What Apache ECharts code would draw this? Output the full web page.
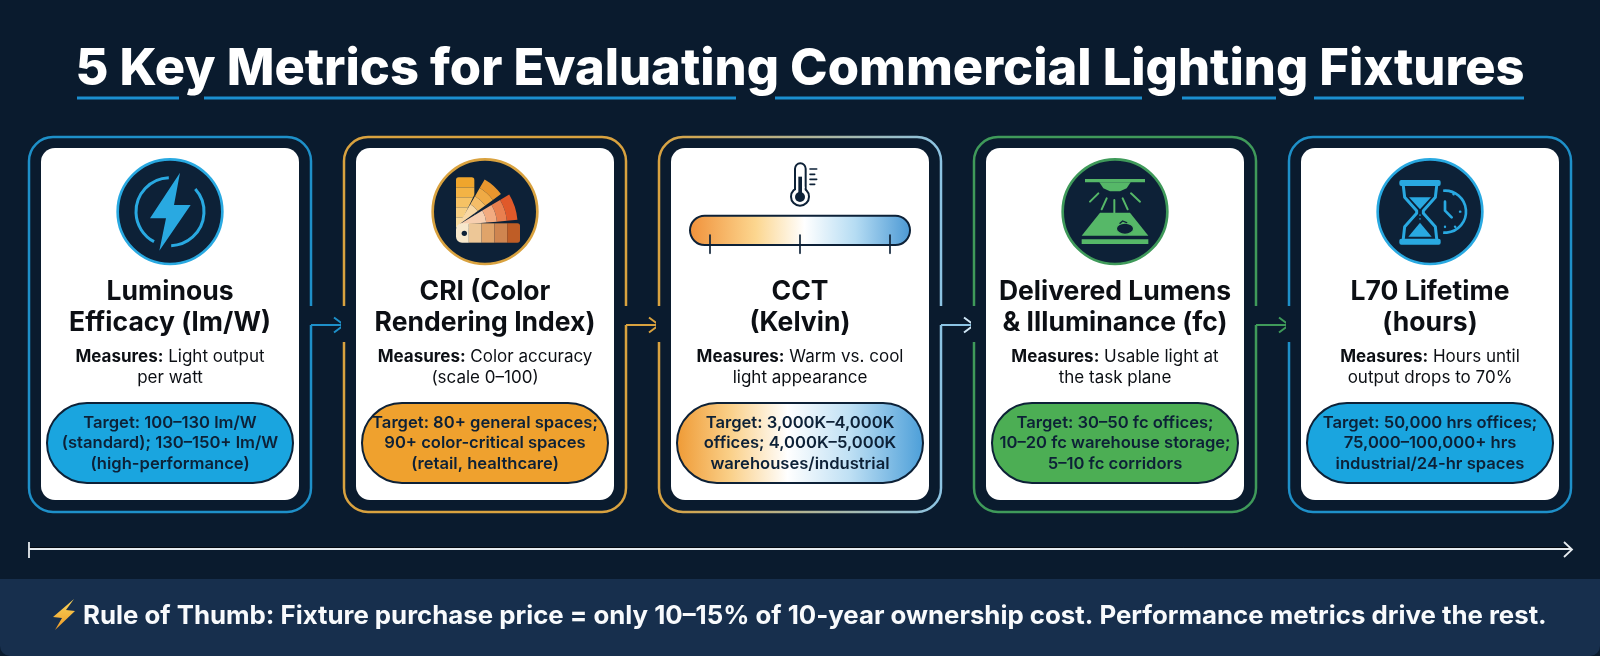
<!DOCTYPE html>
<html>
<head>
<meta charset="utf-8">
<style>html,body{margin:0;padding:0;background:#0a1b2e}#main{width:1600px;height:656px}</style>
<script src="https://cdn.jsdelivr.net/npm/echarts@6/dist/echarts.min.js"></script>
</head>
<body>
<div id="main"></div>
<script>
var heading = '5 Key Metrics for Evaluating Commercial Lighting Fixtures';
var footer = 'Rule of Thumb: Fixture purchase price = only 10–15% of 10-year ownership cost. Performance metrics drive the rest.';
var names = [
    ['Luminous', 'Efficacy (lm/W)'],
    ['CRI (Color', 'Rendering Index)'],
    ['CCT', '(Kelvin)'],
    ['Delivered Lumens', '& Illuminance (fc)'],
    ['L70 Lifetime', '(hours)']
];
var measures = [
    ['Light output', 'per watt'],
    ['Color accuracy', '(scale 0–100)'],
    ['Warm vs. cool', 'light appearance'],
    ['Usable light at', 'the task plane'],
    ['Hours until', 'output drops to 70%']
];
var targets = [
    ['Target: 100–130 lm/W', '(standard); 130–150+ lm/W', '(high-performance)'],
    ['Target: 80+ general spaces;', '90+ color-critical spaces', '(retail, healthcare)'],
    ['Target: 3,000K–4,000K', 'offices; 4,000K–5,000K', 'warehouses/industrial'],
    ['Target: 30–50 fc offices;', '10–20 fc warehouse storage;', '5–10 fc corridors'],
    ['Target: 50,000 hrs offices;', '75,000–100,000+ hrs', 'industrial/24-hr spaces']
];

var BG = '#0a1b2e', NAVY = '#0d2137', INK = '#0c0f14';
var BLUE = '#1e90c9', GOLD = '#d9a23f', GREEN = '#3f9a5a', SKY = '#8cc4e4';
var FONT = 'Inter, "Noto Sans", sans-serif';

function grad(a, b) {
    return new echarts.graphic.LinearGradient(0, 0, 1, 0, [{offset: 0, color: a}, {offset: 1, color: b}]);
}
var borderCol = [BLUE, GOLD, grad(GOLD, SKY), GREEN, BLUE];
var lineCol = [BLUE, GOLD, SKY, GREEN, BLUE];
var arrowCol = [BLUE, GOLD, '#cfe6f5', GREEN];
var pillFill = ['#1aa5df', '#efa12e', null, '#4cae54', '#1aa5df'];

var g = [];
function rect(x, y, w, h, r, style) { g.push({type: 'rect', shape: {x: x, y: y, width: w, height: h, r: r}, style: style}); }
function text(x, y, t, font, fill) {
    g.push({type: 'text', style: {x: x, y: y, text: t, font: font, fill: fill, align: 'center', verticalAlign: 'middle'}});
}

// background and footer band
rect(0, 0, 1600, 656, 0, {fill: BG});
rect(0, 579, 1600, 77, [0, 0, 10, 10], {fill: '#172f4d'});

// title with broken underline
text(800, 70, heading, '800 50.6px ' + FONT, '#fff');
[[77, 179], [204, 736], [775, 1142], [1182, 1276], [1314, 1524]].forEach(function (s) {
    g.push({type: 'line', shape: {x1: s[0], y1: 98, x2: s[1], y2: 98}, style: {stroke: '#1b8fd0', lineWidth: 3}});
});

// cards
for (var i = 0; i < 5; i++) {
    var left = 29 + i * 315, cx = left + 141;
    rect(left, 137, 282, 375, 24, {fill: 'none', stroke: borderCol[i], lineWidth: 2.5});
    // gaps in the border for the connectors
    if (i > 0) rect(left - 3, 306, 6, 36, 0, {fill: BG});
    if (i < 4) {
        rect(left + 279, 306, 6, 19, 0, {fill: BG});
        g.push({type: 'line', shape: {x1: left + 282, y1: 325, x2: left + 314, y2: 325}, style: {stroke: lineCol[i], lineWidth: 2}});
        g.push({type: 'polyline', shape: {points: [[left + 305, 317.5], [left + 315, 325], [left + 305, 332.5]]},
            style: {fill: 'none', stroke: arrowCol[i], lineWidth: 2}});
    }
    rect(left + 12, 148, 258, 352, 14, {fill: '#fff'});

    text(cx, 292, names[i][0], '700 26.5px ' + FONT, INK);
    text(cx, 323, names[i][1], '700 26.5px ' + FONT, INK);

    measures[i].forEach(function (m, j) {
        var t = j === 0 ? '{b|Measures:} ' + m : m;
        g.push({type: 'text', style: {x: cx, y: 357 + j * 21, text: t, font: '400 17px ' + FONT, fill: INK,
            align: 'center', verticalAlign: 'middle',
            rich: {b: {font: '700 17px ' + FONT, fill: INK}}}});
    });

    var pf = pillFill[i] || new echarts.graphic.LinearGradient(0, 0, 1, 0, [
        {offset: 0, color: '#ef9a35'}, {offset: .22, color: '#fad089'}, {offset: .45, color: '#ffffff'},
        {offset: .7, color: '#bfe0f4'}, {offset: 1, color: '#4b9ed8'}]);
    rect(left + 18, 403, 246, 80, 40, {fill: pf, stroke: NAVY, lineWidth: 2});
    targets[i].forEach(function (t, j) {
        text(cx, 422.5 + j * 20.5, t, '600 16.6px ' + FONT, NAVY);
    });
}

// icons are drawn in a 3x working space, one group per card
function icon(x, children) {
    g.push({type: 'group', x: x, y: 120, scaleX: 1 / 3, scaleY: 1 / 3, children: children});
}
function disc(cx, col) {
    return {type: 'circle', shape: {cx: cx, cy: 275, r: 157}, style: {fill: NAVY, stroke: col, lineWidth: 8}};
}
function ln(pts, col, w) {
    return {type: 'polyline', shape: {points: pts}, style: {fill: 'none', stroke: col, lineWidth: w, lineCap: 'round', lineJoin: 'round'}};
}
function poly(pts, col) { return {type: 'polygon', shape: {points: pts}, style: {fill: col}}; }
function deg(d) { return d * Math.PI / 180; }

var B = '#29a9e1';
icon(0, [
    disc(510, B),
    {type: 'arc', shape: {cx: 510, cy: 275, r: 102, startAngle: deg(-92), endAngle: deg(118), clockwise: false},
        style: {fill: 'none', stroke: B, lineWidth: 9}},
    {type: 'arc', shape: {cx: 510, cy: 275, r: 102, startAngle: deg(-42), endAngle: deg(88), clockwise: true},
        style: {fill: 'none', stroke: B, lineWidth: 9}},
    poly([[540, 158], [450, 295], [498, 295], [478, 392], [572, 255], [522, 255]], B)
]);

// swatch fan: straight leaf, two wedge leaves, then the flat leaf on top
function wedge(a0, a1, radii, cols) {
    return cols.map(function (c, k) {
        return {type: 'sector', shape: {cx: 385, cy: 315, r0: k === cols.length - 1 ? 0 : radii[k + 1], r: radii[k],
            startAngle: deg(a0), endAngle: deg(a1)}, style: {fill: c}};
    });
}
var straight = ['#efa52c', '#f3b345', '#f6c264', '#f8cf82', '#fadc9f'].map(function (c, k) {
    return {type: 'rect', shape: {x: 378, y: 172 + k * 30, width: 55, height: 30, r: k === 0 ? [8, 8, 0, 0] : 0}, style: {fill: c}};
});
var hBar = ['#f7e8cc', '#edc797', '#e0a46a', '#cf8550', '#bf5d26'];
icon(330, [disc(465, GOLD)].concat(straight, [
    poly([[434, 222], [434, 322], [386, 322]], NAVY)
], wedge(-60, -36, [158, 128, 100, 72], ['#e8962e', '#efaa45', '#f4bd68', '#f9d8a4']),
   wedge(-31, -5, [178, 146, 116, 84], ['#e0592a', '#e9804f', '#f2ab80', '#f7cfb0']),
   hBar.map(function (c, k) {
    return {type: 'rect', shape: {x: 378 + k * 38.4, y: 310, width: 38.4, height: 58,
        r: k === 0 ? [18, 0, 0, 18] : k === 4 ? [0, 8, 8, 0] : 0}, style: {fill: c}};
}), [
    {type: 'circle', shape: {cx: 403, cy: 340, r: 8}, style: {fill: NAVY}}
]));

// thermometer and CCT bar
icon(640, [
    {type: 'rect', shape: {x: 465, y: 130, width: 32, height: 90, r: [16, 16, 0, 0]}, style: {fill: '#fff', stroke: NAVY, lineWidth: 6}},
    {type: 'circle', shape: {cx: 480, cy: 230, r: 27}, style: {fill: '#fff', stroke: NAVY, lineWidth: 6}},
    {type: 'rect', shape: {x: 468, y: 200, width: 26, height: 30}, style: {fill: '#fff'}},
    {type: 'rect', shape: {x: 475, y: 170, width: 11, height: 60}, style: {fill: NAVY}},
    {type: 'circle', shape: {cx: 480, cy: 231, r: 15}, style: {fill: NAVY}},
    ln([[510, 147], [530, 147]], NAVY, 5), ln([[510, 163], [524, 163]], NAVY, 5),
    ln([[510, 178], [530, 178]], NAVY, 5), ln([[510, 193], [524, 193]], NAVY, 5),
    {type: 'rect', shape: {x: 150, y: 287, width: 660, height: 88, r: 44}, style: {
        fill: new echarts.graphic.LinearGradient(0, 0, 1, 0, [
            {offset: 0, color: '#f0913a'}, {offset: .3, color: '#fcd68f'}, {offset: .52, color: '#ffffff'},
            {offset: .75, color: '#b5dcf3'}, {offset: 1, color: '#4a98d4'}]),
        stroke: NAVY, lineWidth: 6}},
    ln([[210, 345], [210, 400]], NAVY, 5), ln([[480, 345], [480, 400]], NAVY, 5), ln([[750, 345], [750, 400]], NAVY, 5)
]);

// task plane
var G = '#56b868';
icon(950, [
    disc(495, GREEN),
    {type: 'rect', shape: {x: 405, y: 177, width: 180, height: 10}, style: {fill: G}},
    poly([[448, 187], [542, 187], [530, 205], [510, 214], [480, 214], [460, 205]], G),
    ln([[445, 220], [420, 245]], G, 6), ln([[470, 235], [455, 268]], G, 6), ln([[493, 240], [493, 278]], G, 6),
    ln([[518, 235], [533, 268]], G, 6), ln([[543, 220], [570, 245]], G, 6),
    poly([[450, 278], [540, 278], [595, 347], [395, 347]], G),
    {type: 'rect', shape: {x: 395, y: 358, width: 200, height: 14}, style: {fill: G}},
    {type: 'ellipse', shape: {cx: 525, cy: 326, rx: 26, ry: 17}, style: {fill: NAVY, stroke: G, lineWidth: 4}},
    ln([[510, 310], [518, 303], [530, 308]], NAVY, 4)
]);

// hourglass and clock
icon(1260, [
    disc(510, B),
    {type: 'arc', shape: {cx: 555, cy: 275, r: 63, startAngle: deg(-95), endAngle: deg(95)}, style: {fill: 'none', stroke: B, lineWidth: 8}},
    ln([[555, 245], [555, 272], [575, 292]], B, 8),
    ln([[580, 222], [581, 223]], B, 7), ln([[600, 275], [601, 275]], B, 7), ln([[585, 320], [586, 321]], B, 7), ln([[555, 320], [555, 321]], B, 7),
    {type: 'rect', shape: {x: 418, y: 180, width: 124, height: 18, r: 6}, style: {fill: B}},
    {type: 'rect', shape: {x: 418, y: 356, width: 124, height: 18, r: 6}, style: {fill: B}},
    ln([[430, 198], [434, 232], [470, 272], [470, 280], [434, 320], [430, 356]], B, 9),
    ln([[530, 198], [526, 232], [490, 272], [490, 280], [526, 320], [530, 356]], B, 9),
    poly([[447, 232], [513, 232], [480, 268]], B),
    poly([[445, 350], [515, 350], [480, 308]], B),
    ln([[480, 285], [480, 286]], B, 4), ln([[480, 296], [480, 297]], B, 4)
]);

// timeline rule
g.push({type: 'line', shape: {x1: 30, y1: 547.5, x2: 1568, y2: 547.5}, style: {stroke: '#03080f', lineWidth: 1}});
g.push({type: 'line', shape: {x1: 29, y1: 549, x2: 1571, y2: 549}, style: {stroke: '#e6ebef', lineWidth: 1.8}});
g.push({type: 'line', shape: {x1: 29, y1: 542, x2: 29, y2: 558}, style: {stroke: '#e6ebef', lineWidth: 1.8}});
g.push({type: 'polyline', shape: {points: [[1564, 542], [1572, 549.5], [1564, 557]]}, style: {fill: 'none', stroke: '#e6ebef', lineWidth: 1.8}});

// footer, bolt drawn in place of the emoji
g.push({type: 'polygon', shape: {points: [[74, 599], [53, 617], [62, 618], [55, 630], [75, 611], [66, 610]]},
    style: {fill: new echarts.graphic.LinearGradient(0, 0, 0, 1, [{offset: 0, color: '#f9d65c'}, {offset: 1, color: '#ef9a25'}])}});
g.push({type: 'text', style: {x: 83, y: 616, text: footer, font: '700 25.8px ' + FONT, fill: '#f8fafc', align: 'left', verticalAlign: 'middle'}});

var myChart = echarts.init(document.getElementById('main'));
myChart.setOption({animation: false, graphic: {elements: g}});
</script>
</body>
</html>
